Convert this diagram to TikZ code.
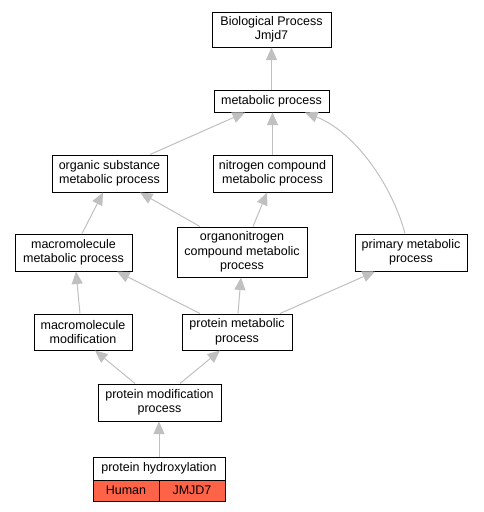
\documentclass[tikz,border=0pt]{standalone}
\usepackage{fontspec}
\setmainfont{Liberation Sans}
\usetikzlibrary{arrows.meta}
\definecolor{edgegrey}{HTML}{C0C0C0}
\definecolor{tomatored}{HTML}{FF6347}
\tikzset{
  box/.style={draw=black, line width=1pt, fill=white, inner sep=0pt, align=center,
    font=\fontsize{12.5}{14.5}\selectfont},
  edge/.style={draw=edgegrey, line width=1pt, -{Triangle[length=12.5pt,width=11pt]}},
}
\begin{document}
\begin{tikzpicture}[x=1pt,y=-1pt]
\useasboundingbox (0,0) rectangle (483,512);
\node[box, minimum width=119pt, minimum height=35pt] (bp) at (271.5,29.5) {Biological Process\\Jmjd7};
\node[box, minimum width=115pt, minimum height=22pt] (met) at (271.5,101) {metabolic process};
\node[box, minimum width=115pt, minimum height=37pt] (os) at (109.5,173.5) {organic substance\\metabolic process};
\node[box, minimum width=119pt, minimum height=37pt] (nc) at (272.5,173.5) {nitrogen compound\\metabolic process};
\node[box, minimum width=117pt, minimum height=37pt] (mm) at (73.5,252.5) {macromolecule\\metabolic process};
\node[box, minimum width=130pt, minimum height=50pt] (on) at (242,252) {organonitrogen\\compound metabolic\\process};
\node[box, minimum width=112pt, minimum height=37pt] (pr) at (411,252.5) {primary metabolic\\process};
\node[box, minimum width=98pt, minimum height=36pt] (mmod) at (83,332) {macromolecule\\modification};
\node[box, minimum width=110pt, minimum height=36pt] (pm) at (237,332) {protein metabolic\\process};
\node[box, minimum width=123pt, minimum height=37pt] (pmod) at (159.5,402.5) {protein modification\\process};
\node[box, minimum width=132pt, minimum height=23pt] (ph) at (159,468.5) {protein hydroxylation};
\node[box, fill=tomatored, minimum width=66pt, minimum height=21pt] (hu) at (126,490.5) {Human};
\node[box, fill=tomatored, minimum width=66pt, minimum height=21pt] (jm) at (192,490.5) {JMJD7};

\draw[edge] (met.north) -- (bp.south);
\draw[edge] ([xshift=40.5pt]os.north) -- ([xshift=-26.5pt]met.south);
\draw[edge] (nc.north) -- ([xshift=1pt]met.south);
\draw[edge] ([xshift=-6pt]pr.north) .. controls (392,185) and (355,132) .. ([xshift=33.5pt]met.south);
\draw[edge] ([xshift=8.5pt]mm.north) -- ([xshift=-6.5pt]os.south);
\draw[edge] ([xshift=-42pt]on.north) -- ([xshift=30.5pt]os.south);
\draw[edge] ([xshift=11pt]on.north) -- ([xshift=-5.5pt]nc.south);
\draw[edge] ([xshift=-3pt]mmod.north) -- ([xshift=2.5pt]mm.south);
\draw[edge] ([xshift=-37pt]pm.north) -- ([xshift=43.5pt]mm.south);
\draw[edge] ([xshift=1pt]pm.north) -- ([xshift=-1pt]on.south);
\draw[edge] ([xshift=43pt]pm.north) -- ([xshift=-36pt]pr.south);
\draw[edge] ([xshift=-24.5pt]pmod.north) -- ([xshift=12pt]mmod.south);
\draw[edge] ([xshift=20.5pt]pmod.north) -- ([xshift=-17pt]pm.south);
\draw[edge] (ph.north) -- ([xshift=-0.5pt]pmod.south);
\end{tikzpicture}
\end{document}
